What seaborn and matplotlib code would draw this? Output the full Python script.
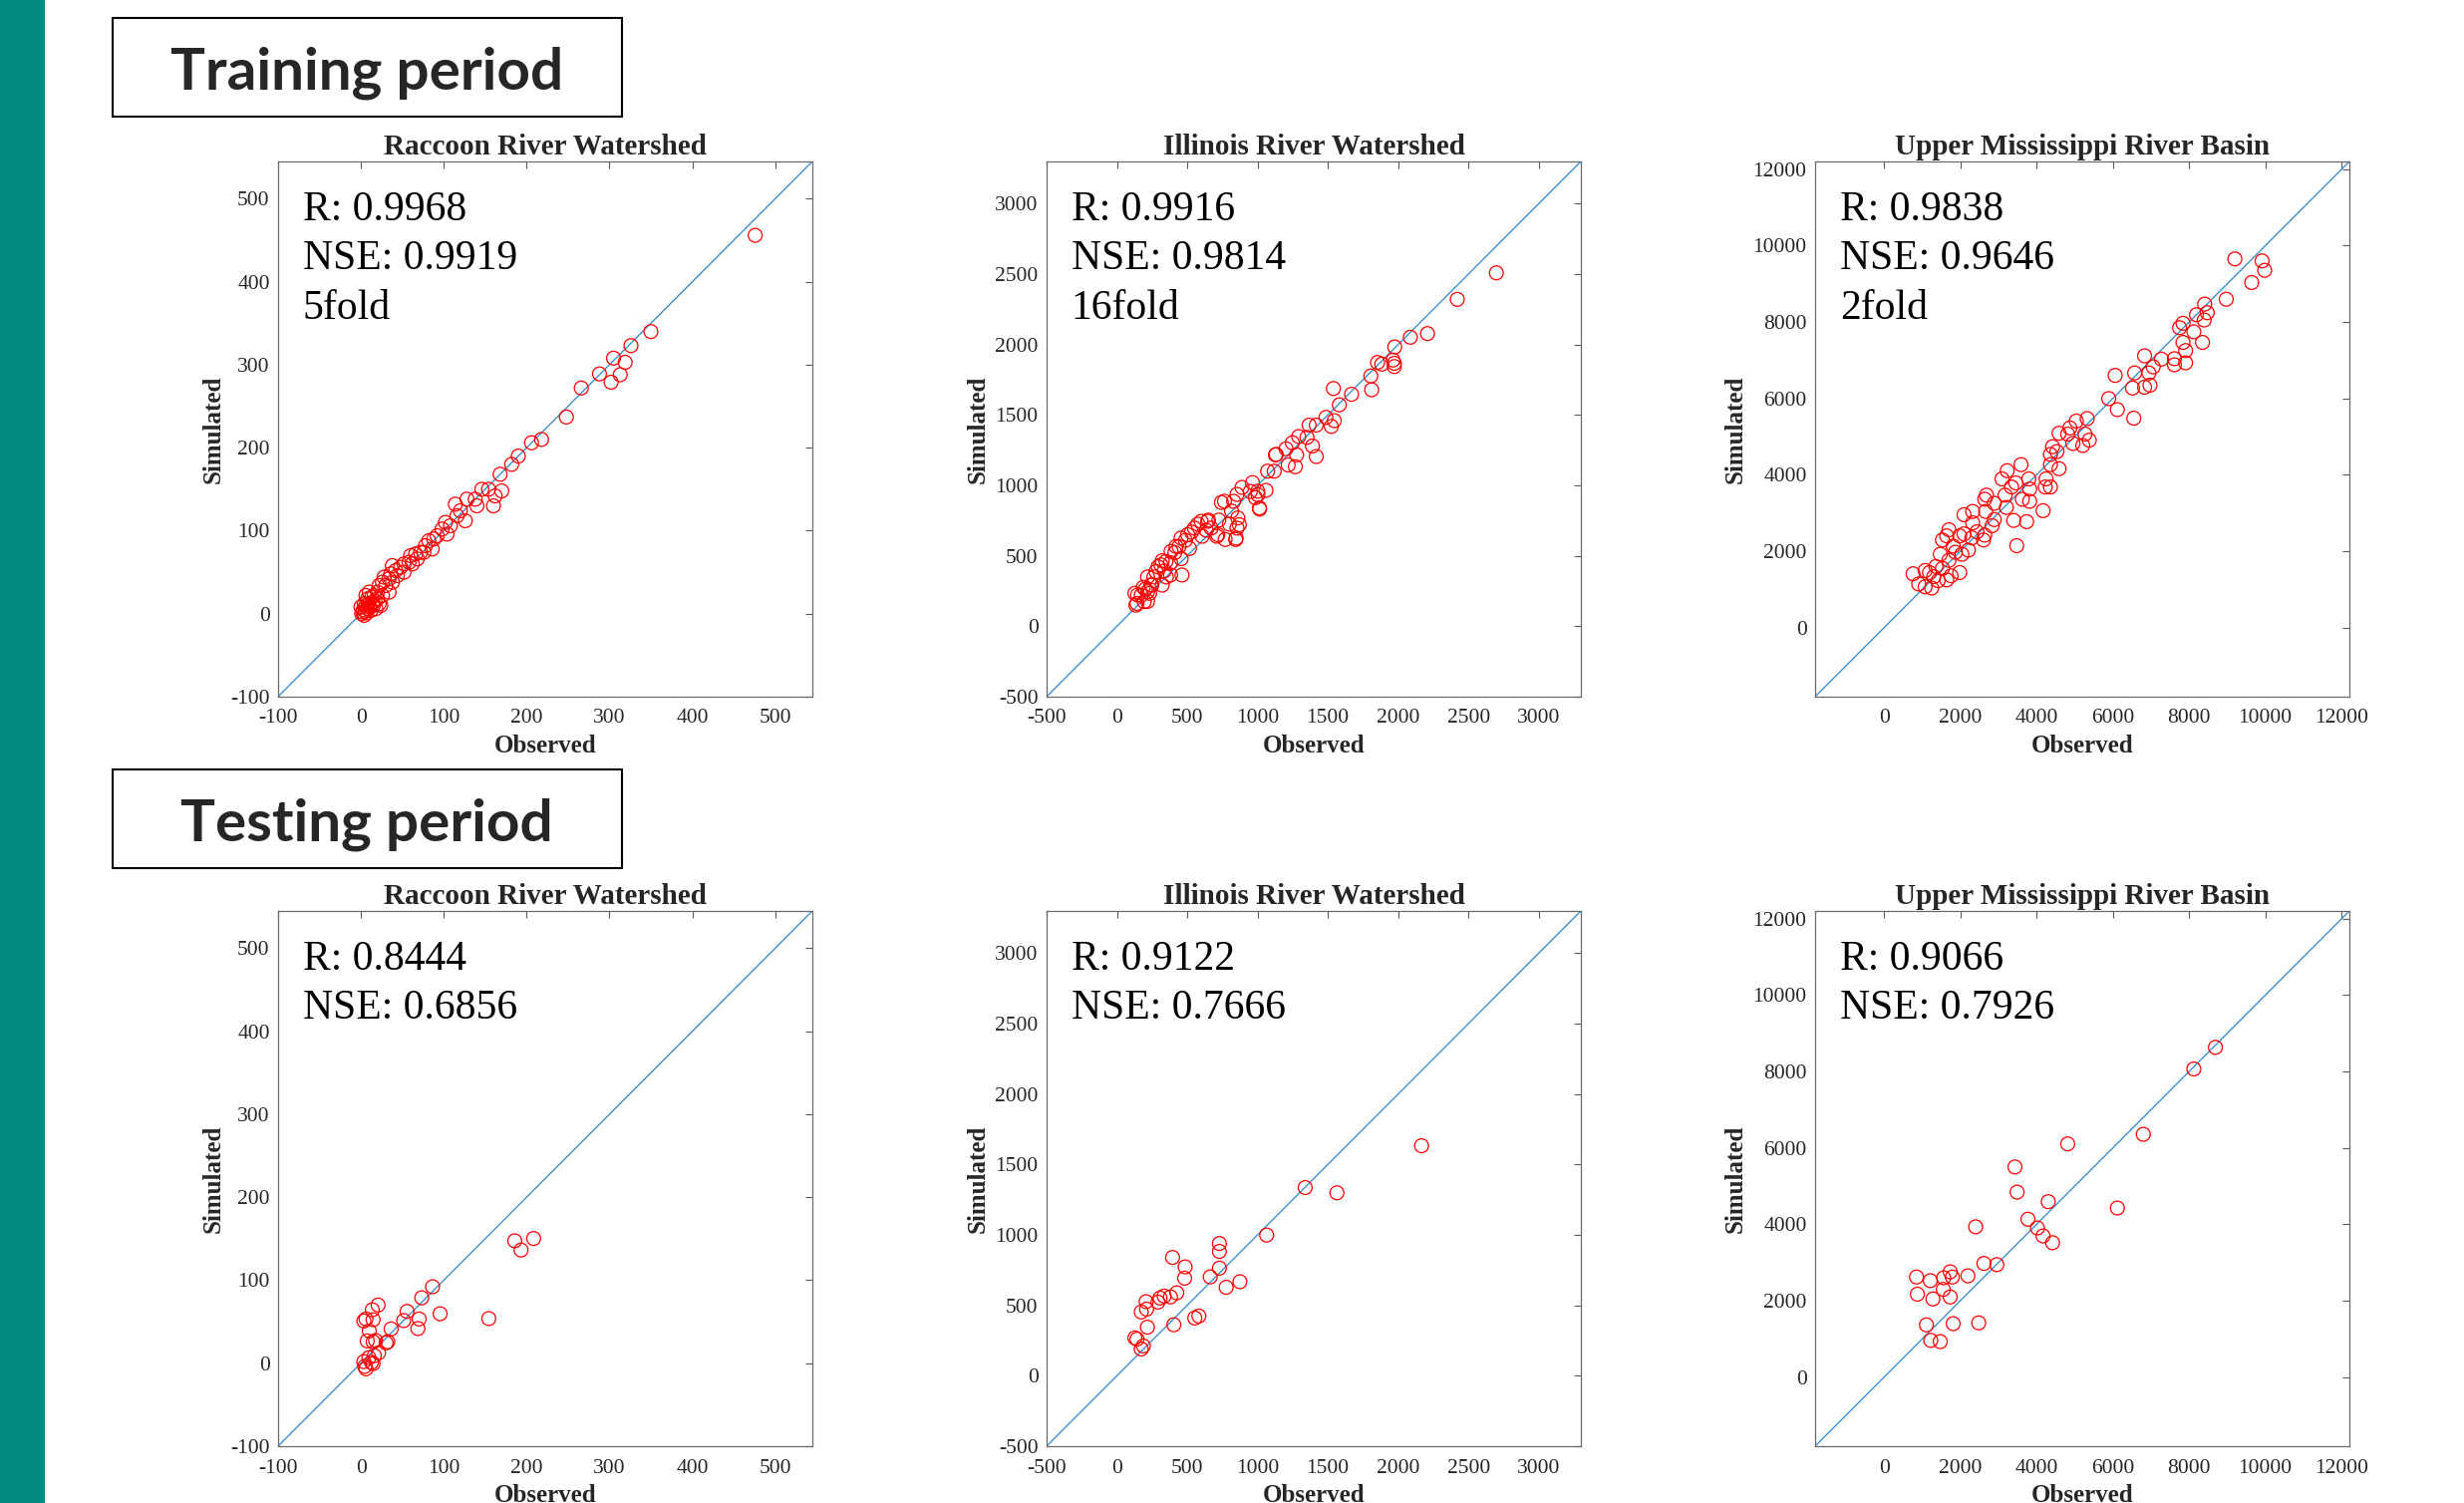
import numpy as np
import pandas as pd
import matplotlib
matplotlib.use("Agg")
import matplotlib.pyplot as plt
import seaborn as sns
from matplotlib.patches import Rectangle

# ---------------- data ----------------
raccoon_train_obs = [476, 350, 326, 305, 319, 288, 302, 313, 266, 248, 218,
                     206, 190, 182, 168, 170, 160, 154, 162, 146, 140, 138, 128, 126, 120,
                     114, 116, 108, 102, 98, 104, 92, 88, 82, 86, 78, 76, 72, 66, 68, 60,
                     58, 62, 52, 48, 52, 42, 44, 36, 34, 38, 28, 26, 30, 22, 20, 26, 24,
                     16, 14, 10, 8, 8, 4, 2, 4, 12, 18, 0, 6, 34, 38,
                     3, 5, 6, 9, 11, 13, 15, 17, 20, 22, 1, 7]
raccoon_train_sim = [456, 340, 323, 308, 303, 289, 279, 288, 272, 237, 210,
                     206, 190, 180, 168, 148, 130, 150, 142, 150, 130, 138, 138, 112, 124,
                     132, 118, 106, 110, 102, 96, 94, 90, 88, 78, 82, 74, 74, 72, 66, 70,
                     62, 60, 60, 56, 50, 52, 46, 48, 42, 38, 44, 38, 34, 34, 26, 22, 10,
                     22, 14, 26, 18, 6, 12, 2, -2, 4, 6, 8, 22, 26, 58,
                     5, 3, 10, 12, 8, 20, 10, 15, 18, 12, 0, 1]

illinois_train_obs = [2699, 2421, 2209, 2087, 1976, 1964, 1973, 1973, 1854, 1884, 1806, 1812,
                      1540, 1669, 1582, 1546, 1525, 1487, 1418, 1367, 1418, 1391, 1352, 1293,
                      1248, 1278, 1203, 1128, 1218, 1269, 1119, 1072, 1060, 1015, 1003, 964,
                      949, 985, 890, 854, 830, 743, 815, 860, 854, 770, 845, 800, 725, 710,
                      651, 636, 606, 576, 531, 487, 516, 442, 412, 457, 382, 322, 337, 293,
                      263, 248, 218, 188, 173, 143, 128, 218, 233, 203, 322, 382, 463, 352,
                      147, 195, 135, 242, 219, 278, 313, 349, 385, 420, 456, 503, 551, 599,
                      646, 670, 718, 765, 848, 871, 1014, 1002, 1133]
illinois_train_sim = [2509, 2321, 2078, 2052, 1983, 1890, 1844, 1867, 1873, 1861, 1777, 1679,
                      1688, 1647, 1572, 1460, 1419, 1483, 1428, 1428, 1205, 1280, 1341, 1347,
                      1303, 1217, 1260, 1217, 1145, 1133, 1101, 1101, 965, 832, 934, 1020,
                      957, 913, 986, 936, 887, 879, 818, 769, 697, 616, 616, 725, 754, 639,
                      754, 682, 639, 725, 668, 610, 552, 566, 523, 480, 451, 465, 393, 422,
                      350, 292, 350, 277, 220, 162, 234, 176, 234, 263, 292, 364, 364, 350,
                      222, 175, 150, 293, 246, 388, 436, 460, 531, 567, 626, 650, 697, 745,
                      745, 697, 650, 888, 626, 721, 840, 959, 1220]

umrb_train_obs = [9201, 9915, 9983, 9643, 8975, 8408, 8476, 8397, 8193, 7841, 7751, 8125,
                  7841, 8351, 7909, 7909, 7615, 7615, 7275, 6833, 7059, 6946, 6572, 6975,
                  6833, 6516, 6062, 5892, 6119, 6550, 5326, 5042, 4873, 4816, 4589, 5269,
                  5382, 5212, 4952, 4419, 4533, 4363, 4589, 4363, 4249, 4227, 4363, 4170,
                  3592, 3796, 3819, 3819, 3739, 3399, 3479, 3626, 3456, 3343, 3229, 3093,
                  3173, 3207, 2890, 2686, 2640, 2663, 2890, 2833, 2323, 2096, 2323, 2436,
                  2640, 2300, 2606, 2096, 1983, 2210, 2040, 1700, 1643, 1530, 1473, 1813,
                  1870, 1700, 1530, 1360, 1983, 1756, 1643, 1303, 1190, 1076, 759, 907,
                  1076, 1246, 1416]
umrb_train_sim = [9653, 9600, 9355, 9035, 8597, 8469, 8245, 8053, 8192, 7968, 7851, 7744,
                  7467, 7467, 7253, 6933, 7040, 6880, 7029, 7115, 6827, 6667, 6667, 6347,
                  6293, 6272, 6603, 5995, 5707, 5483, 5472, 5408, 5227, 5067, 5088, 5067,
                  4907, 4768, 4821, 4736, 4608, 4533, 4160, 4267, 3893, 3680, 3680, 3061,
                  4267, 3893, 3627, 3307, 2773, 2805, 2144, 3360, 3787, 3680, 4107, 3893,
                  3467, 3147, 3253, 3467, 3360, 3040, 2827, 2667, 3040, 2955, 2741, 2507,
                  2421, 2347, 2293, 2453, 2400, 2027, 1920, 2560, 2400, 2293, 1920, 2133,
                  1973, 1760, 1547, 1600, 1440, 1355, 1248, 1333, 1440, 1493, 1408, 1141,
                  1067, 1035, 1227]

raccoon_test_obs = [208.5, 185.7, 193.3, 154.4, 95.6, 86.5, 73.4, 55.7, 51.6, 70.3, 68.8,
                    36.4, 30.4, 32.4, 20.7, 13.7, 6.1, 3.5, 14.7, 10.1, 7.6, 14.7, 17.7,
                    21.3, 16.2, 3.5, 12.7, 14.7, 6.1, 4.6, 9.6]
raccoon_test_sim = [150.3, 147.5, 136.4, 53.8, 59.6, 92.2, 78.8, 62.4, 51.4, 53.3, 41.8,
                    41.3, 24.5, 25.9, 70.1, 64.4, 53.3, 50.9, 52.4, 38.9, 26.9, 25.9, 27.4,
                    12.5, 9.1, 1.9, 1.0, -0.5, -6.7, -3.8, 6.7]

illinois_test_obs = [2167, 1565, 1339, 1065, 729, 729, 729, 664, 777, 875, 396, 485, 482,
                     426, 381, 336, 307, 292, 208, 211, 173, 217, 405, 554, 583, 128, 143,
                     188, 173]
illinois_test_sim = [1633, 1299, 1336, 999, 939, 883, 764, 702, 628, 668, 840, 773, 693,
                     589, 560, 566, 552, 523, 526, 473, 453, 345, 362, 410, 424, 269, 260,
                     212, 190]

umrb_test_obs = [8691, 8125, 6799, 6119, 4816, 3433, 3490, 4306, 3773, 4023, 4170, 4419,
                 2402, 2618, 2958, 2198, 1734, 1790, 1564, 1212, 850, 873, 1552, 1280, 1734,
                 1110, 1813, 2482, 1224, 1473]
umrb_test_sim = [8633, 8069, 6357, 4426, 6106, 5501, 4843, 4593, 4134, 3904, 3695, 3518,
                 3935, 2975, 2944, 2651, 2756, 2620, 2599, 2526, 2620, 2171, 2296, 2046, 2098,
                 1367, 1399, 1420, 960, 929]

basin_names = ["Raccoon River Watershed", "Illinois River Watershed",
               "Upper Mississippi River Basin"]
axis_limits = [(-100, 545), (-500, 3300), (-1810, 12205)]
tick_values = [list(range(-100, 501, 100)), list(range(-500, 3001, 500)),
               list(range(0, 12001, 2000))]
train_labels = [["R: 0.9968", "NSE: 0.9919", "5fold"],
                ["R: 0.9916", "NSE: 0.9814", "16fold"],
                ["R: 0.9838", "NSE: 0.9646", "2fold"]]
test_labels = [["R: 0.8444", "NSE: 0.6856"],
               ["R: 0.9122", "NSE: 0.7666"],
               ["R: 0.9066", "NSE: 0.7926"]]
period_titles = ["Training period", "Testing period"]

train_data = [(raccoon_train_obs, raccoon_train_sim),
              (illinois_train_obs, illinois_train_sim),
              (umrb_train_obs, umrb_train_sim)]
test_data = [(raccoon_test_obs, raccoon_test_sim),
             (illinois_test_obs, illinois_test_sim),
             (umrb_test_obs, umrb_test_sim)]

# ---------------- figure ----------------
sns.set_theme(style="white")
plt.rcParams["font.family"] = ["Liberation Serif", "DejaVu Serif"]
plt.rcParams["axes.unicode_minus"] = False

W, H = 2472, 1508
fig = plt.figure(figsize=(W / 100, H / 100), dpi=100)
fig.patch.set_facecolor("white")

# teal side bar
fig.add_artist(Rectangle((0, 0), 45 / W, 1, transform=fig.transFigure,
                         facecolor="#008A80", edgecolor="none", zorder=0))

col_left = [279, 1050, 1821]
row_top = [162, 914]
ax_w, ax_h = 536, 537

box_tops = [18, 772]
for title, btop in zip(period_titles, box_tops):
    fig.add_artist(Rectangle((113 / W, 1 - (btop + 99) / H), 511 / W, 99 / H,
                             transform=fig.transFigure, facecolor="white",
                             edgecolor="black", linewidth=1.5, zorder=2))
    fig.text(368 / W, 1 - (btop + 71) / H, title, ha="center", va="baseline",
             fontsize=42, fontweight="bold", family=["Lato", "DejaVu Sans"], zorder=3)

for r, (rows, labels) in enumerate([(train_data, train_labels), (test_data, test_labels)]):
    for c in range(3):
        left = col_left[c]
        top = row_top[r]
        ax = fig.add_axes([left / W, 1 - (top + ax_h) / H, ax_w / W, ax_h / H])
        obs, sim = rows[c]
        df = pd.DataFrame({"Observed": obs, "Simulated": sim})
        lo, hi = axis_limits[c]
        ax.plot([lo, hi], [lo, hi], color="#3F90D0", linewidth=1.0, zorder=2)
        sns.scatterplot(data=df, x="Observed", y="Simulated", ax=ax, marker="o",
                        s=100, facecolors="none", edgecolor="#FF0000",
                        linewidth=0.9, zorder=3, legend=False)
        ax.set_xlim(lo, hi)
        ax.set_ylim(lo, hi)
        ax.set_xticks(tick_values[c])
        ax.set_yticks(tick_values[c])
        ax.tick_params(direction="in", length=5, width=0.8, top=True, right=True,
                       labelsize=15.5, labelcolor="#262626", color="#5a5a5a")
        ax.tick_params(axis="x", pad=9)
        ax.tick_params(axis="y", pad=6)
        for sp in ax.spines.values():
            sp.set_color("#6a6a6a")
            sp.set_linewidth(0.9)
        ax.set_title(basin_names[c], fontsize=21, fontweight="bold", pad=5)
        ax.set_xlabel("Observed", fontsize=18, fontweight="bold", labelpad=5)
        ax.set_ylabel("Simulated", fontsize=18, fontweight="bold", labelpad=4)
        ax.grid(False)
        for i, line in enumerate(labels[c]):
            ax.text(0.046, 0.891 - i * 0.0925, line, transform=ax.transAxes,
                    fontsize=30, va="baseline", ha="left", color="black")

fig.savefig("out.png", dpi=100, facecolor="white")
